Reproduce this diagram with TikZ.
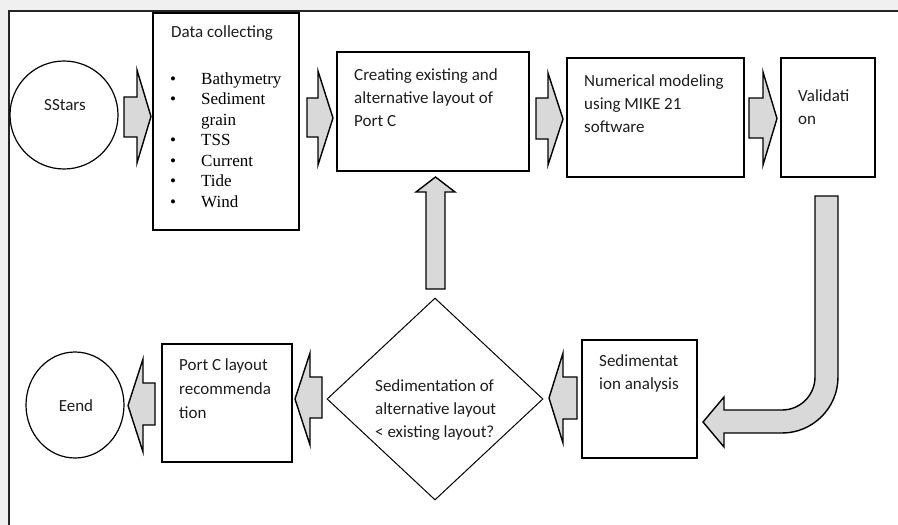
\documentclass[tikz,border=0pt]{standalone}
\usepackage{fontspec}
\setmainfont{Carlito}
\newfontfamily\tnr{Liberation Serif}
\usetikzlibrary{shapes.geometric}
\definecolor{pagegray}{RGB}{240,240,240}
\definecolor{arrowfill}{RGB}{217,217,217}
\definecolor{txtcol}{RGB}{30,30,30}
\tikzset{
  boxnode/.style={draw=black, line width=1.4pt, fill=white, rectangle, inner sep=0pt},
  blk/.style={draw=black, line width=1.4pt, fill=arrowfill, line join=miter},
  txt/.style={inner sep=0pt, anchor=base west, text=txtcol, font=\fontsize{17}{23}\selectfont},
  ctxt/.style={inner sep=0pt, anchor=base, text=txtcol, font=\fontsize{17}{23}\selectfont},
  ltxt/.style={inner sep=0pt, anchor=base west, text=black, font=\tnr\fontsize{17}{20}\selectfont},
  bul/.style={inner sep=0pt, anchor=base, text=black, font=\tnr\fontsize{17}{20}\selectfont}
}
% horizontal block arrow: x0 (tail) xb (head base) xt (tip) ys0 ys1 (shaft) yh0 yh1 (head)
\newcommand\hblk[7]{\draw[blk] (#1,#4) -- (#2,#4) -- (#2,#6) -- (#3,{(#6+#7)/2}) -- (#2,#7) -- (#2,#5) -- (#1,#5) -- cycle;}
\begin{document}
\begin{tikzpicture}[x=1pt,y=-1pt]
\useasboundingbox (0,0) rectangle (898,525);
\fill[pagegray] (0,0) rectangle (898,525);
\fill[white] (9,11) rectangle (898,525);
\draw[line width=1.5pt, black!85] (9,525) -- (9,11) -- (898,11);

% nodes
\node[draw=black, line width=1.2pt, fill=white, circle, minimum size=108pt, inner sep=0pt] (start) at (64,115) {};
\node[boxnode, minimum width=146pt, minimum height=217pt] (data) at (226,121.5) {};
\node[boxnode, minimum width=192pt, minimum height=119pt] (create) at (433,111.5) {};
\node[boxnode, minimum width=177pt, minimum height=119pt] (model) at (655.5,117.5) {};
\node[boxnode, minimum width=94pt, minimum height=119pt] (valid) at (828,117.5) {};
\node[boxnode, minimum width=115pt, minimum height=118pt] (sedan) at (639.5,399) {};
\node[draw=black, line width=1pt, fill=white, diamond, minimum width=216pt, minimum height=202pt, inner sep=0pt] (decide) at (435,399) {};
\node[boxnode, minimum width=130pt, minimum height=118pt] (portc) at (227,403) {};
\node[draw=black, line width=1.2pt, fill=white, ellipse, minimum width=98pt, minimum height=106pt, inner sep=0pt] (end) at (75,405) {};

% block arrows
\hblk{124}{137}{151}{97}{137}{70}{163}
\hblk{307}{318}{333}{98}{137}{71}{165}
\hblk{536}{548}{563}{98}{139}{73}{165}
\hblk{749}{763}{777}{98}{138}{72}{165}
\hblk{577}{563}{549}{377}{419}{353}{443}
\hblk{322}{310}{295}{377}{418}{353}{445}
\hblk{155}{143}{128}{383}{425}{359}{452}
% up arrow from decision to creating box
\draw[blk] (426,289) -- (426,192) -- (416,192) -- (435.5,177) -- (455,192) -- (445,192) -- (445,289) -- cycle;
% bent arrow from validation to sedimentation analysis
\draw[blk] (815,196) -- (838,196) -- (838,377) arc(0:90:56) -- (724,433) -- (724,447) -- (703,422) -- (724,397) -- (724,410) -- (782,410) arc(90:0:33) -- cycle;

% texts
\node[ctxt] (t-start) at (65,110) {SStars};
\node[txt] (t-data) at (171,37) {Data collecting};
\foreach \t/\b [count=\i from 0] in {Bathymetry/1,Sediment/1,grain/0,TSS/1,Current/1,Tide/1,Wind/1}{
  \node[ltxt] (t-list\i) at (201,{84+20.5*\i}) {\t};
  \ifnum\b=1 \node[bul] (b-list\i) at (173,{84+20.5*\i}) {\textbullet};\fi
}
\foreach \t [count=\i from 0] in {Creating existing and,alternative layout of,Port C}
  \node[txt] (t-create\i) at (354,{80+23*\i}) {\t};
\foreach \t [count=\i from 0] in {Numerical modeling,using MIKE 21,software}
  \node[txt] (t-model\i) at (584,{86+23*\i}) {\t};
\foreach \t [count=\i from 0] in {Validati,on}
  \node[txt] (t-valid\i) at (798,{101+23*\i}) {\t};
\foreach \t [count=\i from 0] in {Sedimentat,ion analysis}
  \node[txt] (t-sedan\i) at (599,{366+23*\i}) {\t};
\foreach \t [count=\i from 0] in {Sedimentation of,alternative layout,< existing layout?}
  \node[txt] (t-decide\i) at (375,{391+23*\i}) {\t};
\foreach \t [count=\i from 0] in {Port C layout,recommenda,tion}
  \node[txt] (t-portc\i) at (179,{370+24*\i}) {\t};
\node[ctxt] (t-end) at (76,411) {Eend};
\end{tikzpicture}
\end{document}
